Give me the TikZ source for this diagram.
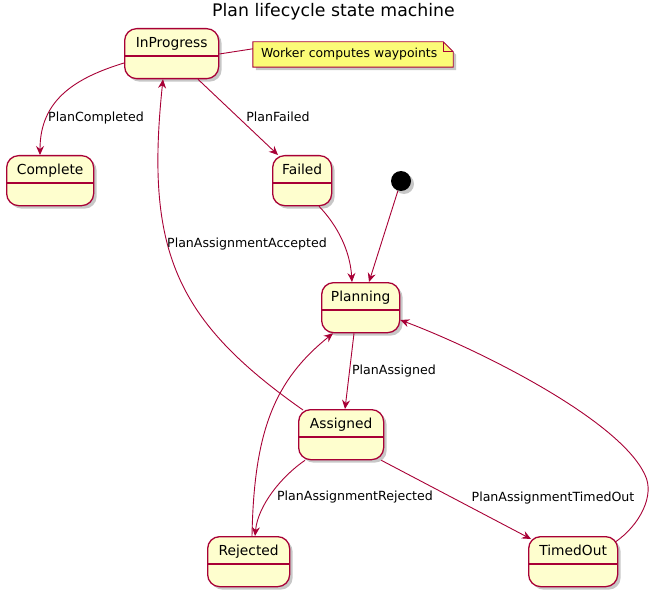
\documentclass[tikz,border=0pt]{standalone}
\usepackage{fontspec}
\setmainfont{DejaVu Sans}
\usepackage{tikz}
\usepackage{xcolor}
\usetikzlibrary{arrows.meta}
\usetikzlibrary{shadows}
\usetikzlibrary{backgrounds}

\definecolor{umlred}{HTML}{A80036}
\definecolor{umlfill}{HTML}{FEFECE}
\definecolor{umlnote}{HTML}{FBFB77}

\tikzset{
  umlshadow/.style={drop shadow={shadow xshift=3pt,shadow yshift=-3pt,fill=black,opacity=0.22}},
  statebox/.style={draw=umlred, fill=umlfill, line width=1.3pt, rounded corners=12pt,
    anchor=north west, minimum height=50pt, inner xsep=0pt, inner ysep=7pt,
    text height=11.5pt, text depth=24.5pt, font=\fontsize{13.8}{16}\selectfont, umlshadow},
  trans/.style={draw=umlred, line width=0.9pt, -{Stealth[length=9pt,width=8pt,inset=3pt]}},
  lbl/.style={font=\fontsize{12.6}{15}\selectfont, inner sep=0pt},
}

\begin{document}
\begin{tikzpicture}[x=1pt,y=-1pt]
        \useasboundingbox (0,0) rectangle (666,596);
        \node[font=\fontsize{17.3}{20}\selectfont, anchor=base] (title) at (333.5,16.7) {Plan lifecycle state machine};

        % states
        \node[statebox, minimum width=94pt] (inprog) at (124,28) {InProgress};
        \node[statebox, minimum width=87pt] (complete) at (6,155) {Complete};
        \node[statebox, minimum width=59pt] (failed) at (272,155) {Failed};
        \node[statebox, minimum width=78pt] (planning) at (321,282) {Planning};
        \node[statebox, minimum width=85pt] (assigned) at (298,409) {Assigned};
        \node[statebox, minimum width=82pt] (rejected) at (207,536) {Rejected};
        \node[statebox, minimum width=89pt] (timedout) at (528,536) {TimedOut};
        \node[circle, fill=black, minimum size=20pt, inner sep=0pt, umlshadow] (init) at (401,181) {};
        \foreach \s in {inprog,complete,failed,planning,assigned,rejected,timedout}{
            \draw[umlred, line width=1.3pt] ([yshift=-28pt]\s.north west) -- ([yshift=-28pt]\s.north east);
        }

        % note
        \node[font=\fontsize{12.4}{14}\selectfont, align=left, text width=184pt, inner xsep=8pt,
              minimum height=25pt, inner ysep=0pt] (note) at (353,54.5) {Worker computes waypoints};
        \draw[umlred, line width=0.9pt] ([yshift=-26pt]inprog.north east) -- ([yshift=-7pt]note.north west);

        % transitions
        \draw[trans] ([yshift=-35pt]inprog.north west) .. controls (75,78) and (40,100) .. ([xshift=34pt]complete.north west);
        \draw[trans] ([xshift=74pt]inprog.south west) -- ([xshift=6pt]failed.north west);
        \draw[trans] ([xshift=47pt]failed.south west) .. controls (337,225) and (350,250) .. ([xshift=31pt]planning.north west);
        \draw[trans] (init) -- ([xshift=48pt]planning.north west);
        \draw[trans] ([xshift=33pt]planning.south west) -- ([xshift=47pt]assigned.north west);
        \draw[trans] ([xshift=5pt,yshift=-1pt]assigned.north west) .. controls (175,320) and (145,250) .. ([xshift=39pt]inprog.south west);
        \draw[trans] ([xshift=45pt]rejected.north west) .. controls (254,430) and (275,380) .. ([xshift=12pt]planning.south west);
        \draw[trans] ([xshift=7pt]assigned.south west) .. controls (282,476) and (258,505) .. ([xshift=48pt]rejected.north west);
        \draw[trans] ([xshift=-3pt]assigned.south east) -- ([xshift=3pt,yshift=-3pt]timedout.north west);
        \draw[trans] ([xshift=-3pt,yshift=-6pt]timedout.north east) .. controls (640,525) and (655,495) .. (645,475)
            .. controls (620,420) and (480,350) .. ([yshift=-38pt]planning.north east);

        % labels
        \node[lbl] (lcompleted) at (96,118) {PlanCompleted};
        \node[lbl] (lfailed) at (278,117) {PlanFailed};
        \node[lbl] (laccepted) at (247,244) {PlanAssignmentAccepted};
        \node[lbl] (lassigned) at (394,371) {PlanAssigned};
        \node[lbl] (lrejected) at (355,497) {PlanAssignmentRejected};
        \node[lbl] (ltimedout) at (553,498) {PlanAssignmentTimedOut};

        \begin{scope}[on background layer]
            \fill[white] (0,0) rectangle (666,596);
            \draw[draw=umlred, fill=umlnote, line width=0.9pt, umlshadow] (note.north west) -- ([xshift=-10pt]note.north east)
                -- ([yshift=-10pt]note.north east) -- (note.south east) -- (note.south west) -- cycle;
            \draw[umlred, line width=0.9pt] ([xshift=-10pt]note.north east) -- ([xshift=-10pt,yshift=-10pt]note.north east)
                -- ([yshift=-10pt]note.north east);
        \end{scope}
    \end{tikzpicture}
\end{document}
